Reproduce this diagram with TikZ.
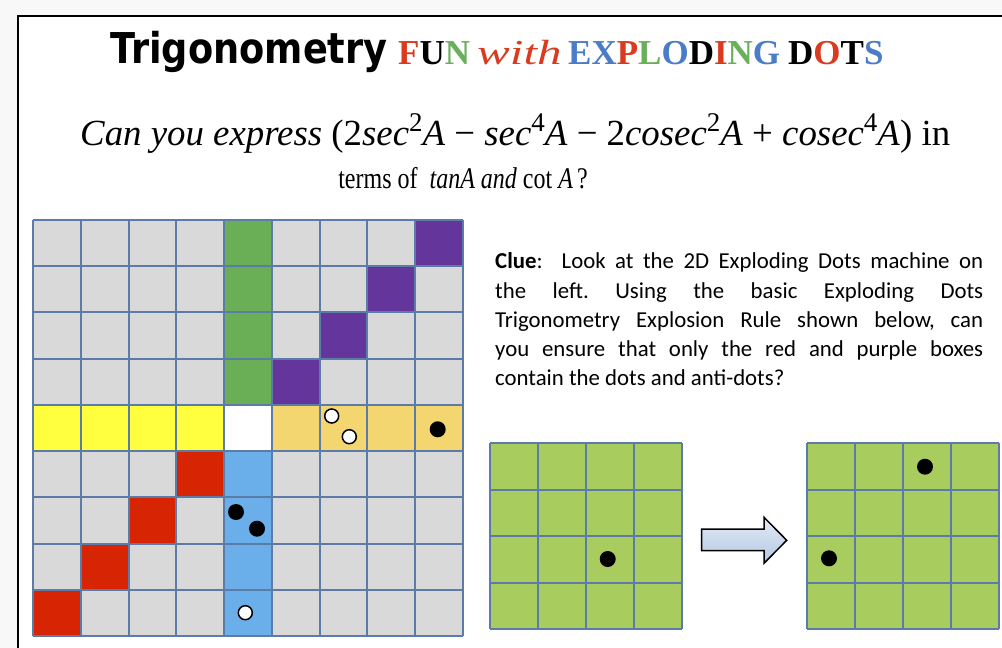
\documentclass[tikz,border=0pt]{standalone}
\usepackage{fontspec}
\setmainfont{Liberation Serif}
\newfontfamily\clueFont{Carlito}
\newfontfamily\trigFont{DejaVu Sans}
\usepackage{graphicx}
\definecolor{bggray}{HTML}{F8F8F8}
\definecolor{cgray}{HTML}{D9D9D9}
\definecolor{cgreen}{HTML}{6AAE56}
\definecolor{cpurple}{HTML}{64359B}
\definecolor{cyellow}{HTML}{FFFF40}
\definecolor{corange}{HTML}{F4D671}
\definecolor{cred}{HTML}{D72504}
\definecolor{cblue}{HTML}{6AAFE9}
\definecolor{gline}{HTML}{5B7BA8}
\definecolor{sgreen}{HTML}{A9CC5E}
\definecolor{arrowtop}{HTML}{E2EAF5}
\definecolor{arrowbot}{HTML}{B4C8E2}
\definecolor{tred}{HTML}{DA3A1E}
\definecolor{tgreen}{HTML}{6AAF5A}
\definecolor{tblue}{HTML}{4A7CC8}
\newcommand\pw[1]{\raisebox{0.38em}{\fontsize{22}{24}\selectfont #1}}
\tikzset{
  bdot/.style={circle,fill=black,minimum size=16pt,inner sep=0pt},
  adot/.style={circle,draw=black,line width=1.5pt,fill=white,minimum size=14pt,inner sep=0pt},
  gridline/.style={draw=gline,line width=2pt},
  titleword/.style={anchor=base west,inner sep=0pt,font=\fontsize{35}{40}\selectfont\bfseries}
}
\begin{document}
\begin{tikzpicture}[x=1pt,y=-1pt]
\useasboundingbox (0,0) rectangle (1002,648);
\clip (0,0) rectangle (1002,648);
\fill[bggray] (0,0) rectangle (1002,648);
\filldraw[fill=white,draw=black,line width=2pt] (18,16) rectangle (1030,680);

% title
\node[anchor=base west,inner sep=0pt,font=\trigFont\fontsize{36}{40}\selectfont\bfseries] (t1) at (110,63) {\scalebox{1.02}[1.18]{Trigonometry}};
\node[titleword] (t2) at (398,64) {\textcolor{tred}{F}U\textcolor{tgreen}{N}};
\node[anchor=base west,inner sep=0pt,font=\fontsize{35}{40}\selectfont\itshape,text=tred] (t3) at (477,64) {\scalebox{1.4}[1]{with}};
\node[titleword] (t4) at (568,64) {\textcolor{tblue}{EX}\textcolor{tred}{P}\textcolor{tgreen}{L}\textcolor{tblue}{O}D\textcolor{tred}{I}\textcolor{tgreen}{N}\textcolor{tblue}{G}};
\node[titleword] (t5) at (788,64) {D\textcolor{tred}{O}T\textcolor{tblue}{S}};

% question
\node[anchor=base west,inner sep=0pt,font=\fontsize{30}{34}\selectfont] (q1) at (80,145) {\resizebox{870pt}{!}{\textit{Can you express} (2\textit{sec}\pw{2}\textit{A} − \textit{sec}\pw{4}\textit{A} − 2\textit{cosec}\pw{2}\textit{A} + \textit{cosec}\pw{4}\textit{A}) in}};
\node[anchor=base,inner sep=0pt,font=\fontsize{30}{34}\selectfont] (q2) at (463,188) {\scalebox{0.8}[1]{terms of\ \ \textit{tanA and} cot \textit{A}\,?}};

% big grid
\fill[cgray] (33.3,220) rectangle (462.7,636);
\foreach \c/\r/\k in {4/0/cgreen,4/1/cgreen,4/2/cgreen,4/3/cgreen,8/0/cpurple,7/1/cpurple,6/2/cpurple,5/3/cpurple,0/4/cyellow,1/4/cyellow,2/4/cyellow,3/4/cyellow,4/4/white,5/4/corange,6/4/corange,7/4/corange,8/4/corange,3/5/cred,2/6/cred,1/7/cred,0/8/cred,4/5/cblue,4/6/cblue,4/7/cblue,4/8/cblue}
  \fill[\k] ({33.3+\c*47.71},{220+\r*46.22}) rectangle ++(47.71,46.22);
\foreach \i in {0,...,9} {
  \draw[gridline] ({33.3+\i*47.71},220) -- ({33.3+\i*47.71},636);
  \draw[gridline] (33.3,{220+\i*46.22}) -- (462.7,{220+\i*46.22});
}
\node[adot] (a1) at (331.7,416) {};
\node[adot] (a2) at (349.3,436.7) {};
\node[bdot] (b1) at (437.7,429.3) {};
\node[bdot] (b2) at (236,512) {};
\node[bdot] (b3) at (257,528.7) {};
\node[adot] (a3) at (245.3,612.7) {};

% clue
\node[anchor=north west,inner sep=0pt,text width=488pt,align=justify,font=\clueFont\fontsize{22.8}{29.3}\selectfont\frenchspacing] (clue) at (495,252.5)
{\textbf{Clue}:\ \ Look at the 2D Exploding Dots machine on\linebreak the left. Using the basic Exploding Dots\linebreak Trigonometry Explosion Rule shown below, can\linebreak you ensure that only the red and purple boxes\linebreak contain the dots and anti-dots?};

% small grids
\foreach \x in {490,807} {
  \fill[sgreen] (\x,443) rectangle ++(192,186);
  \foreach \i in {0,...,4} {
    \draw[gridline] ({\x+\i*48},443) -- ({\x+\i*48},629);
    \draw[gridline] (\x,{443+\i*46.5}) -- ({\x+192},{443+\i*46.5});
  }
}
\node[bdot] (s1) at (607.7,559) {};
\node[bdot] (s2) at (925,466.7) {};
\node[bdot] (s3) at (829,558.3) {};

% arrow
\shade[top color=arrowtop,bottom color=arrowbot,draw=black,line width=1.5pt,line join=miter]
  (701.7,529) -- (764,529) -- (764,517.3) -- (786.7,540.3) -- (764,563.3) -- (764,550.7) -- (701.7,550.7) -- cycle;
\end{tikzpicture}
\end{document}
